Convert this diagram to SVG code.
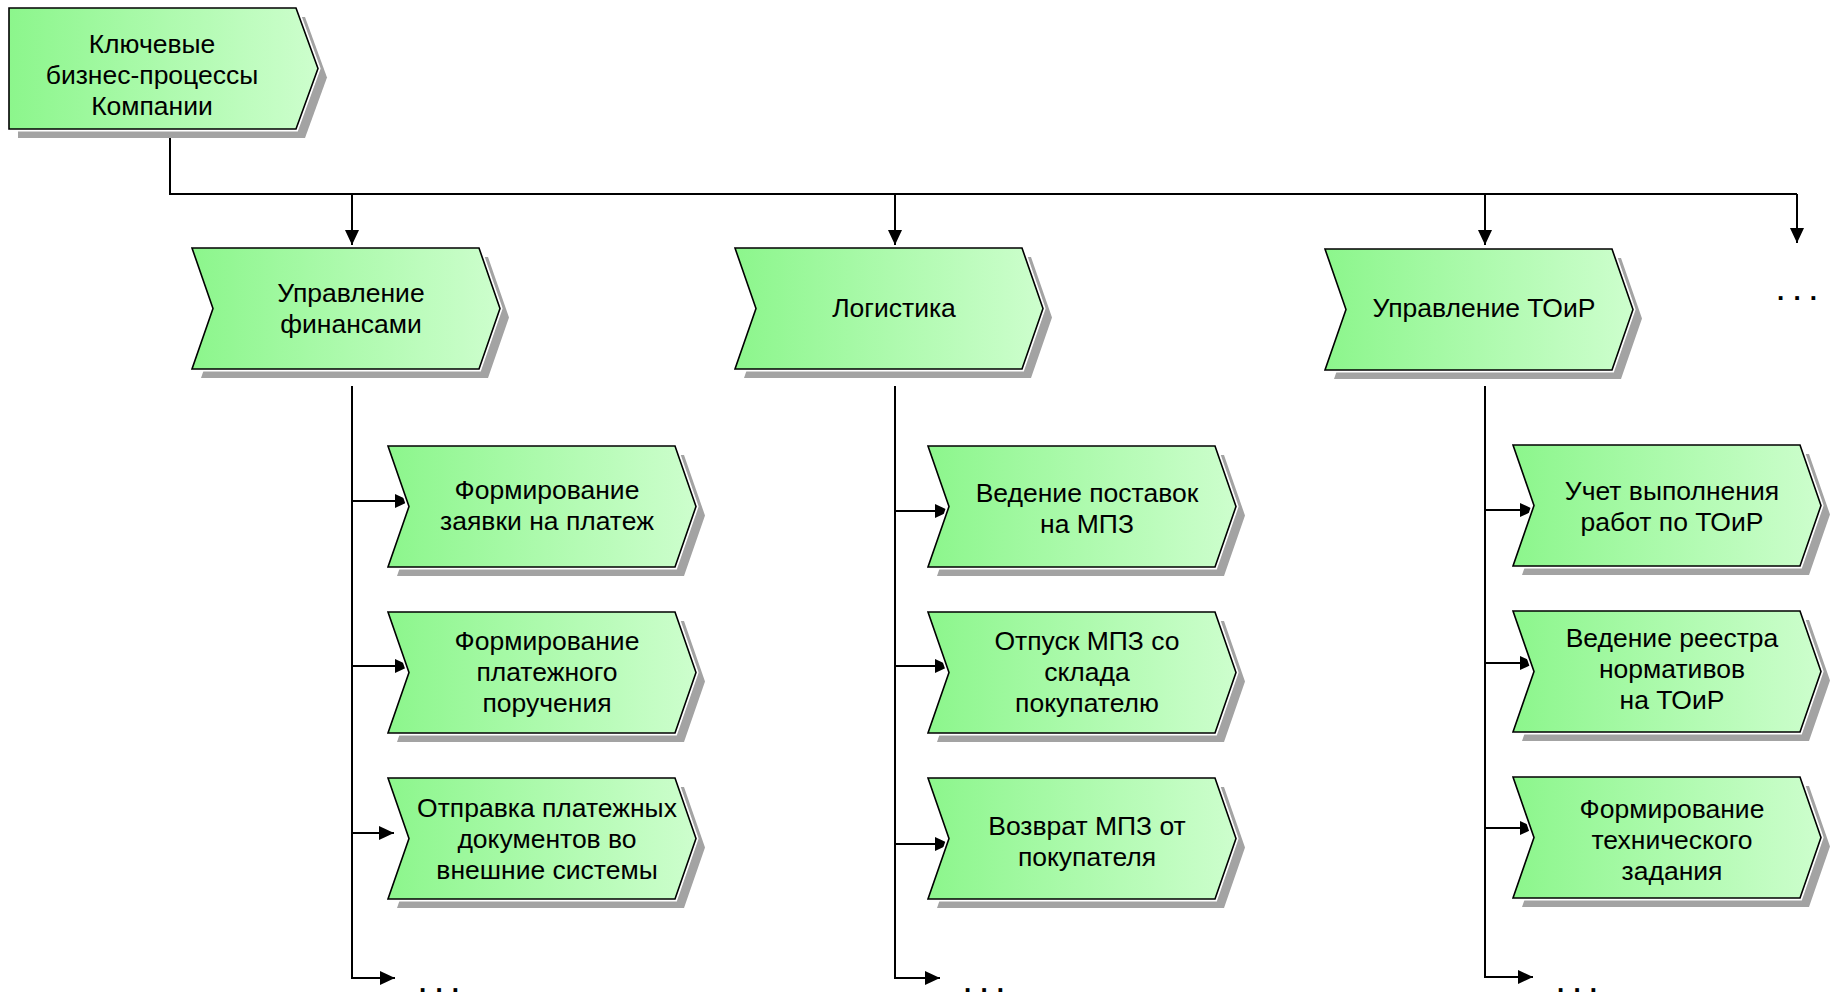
<svg xmlns="http://www.w3.org/2000/svg" xmlns:xlink="http://www.w3.org/1999/xlink" width="1835" height="998" viewBox="0 0 1835 998">
<style>
.sh{fill:#a3a3a3;}
.halo{fill:#ffffff;stroke:#ffffff;stroke-width:5;stroke-linejoin:miter;}
.body{fill:url(#g);stroke:#000000;stroke-width:1.6;stroke-linejoin:miter;}
.t{font-family:"Liberation Sans",Arial,sans-serif;font-size:26.5px;fill:#000000;text-anchor:middle;}
.dots{font-family:"Liberation Sans",Arial,sans-serif;font-size:26px;font-weight:bold;letter-spacing:1px;fill:#000000;text-anchor:middle;}
.c{fill:none;stroke:#000000;stroke-width:2;}
</style>
<defs>
<linearGradient id="g" x1="0" y1="0" x2="1" y2="0">
<stop offset="0" stop-color="#8cf68c"/>
<stop offset="0.5" stop-color="#adfaad"/>
<stop offset="1" stop-color="#cdfecd"/>
</linearGradient>
<polygon id="chev" points="0,0 287,0 308,60.5 287,121 0,121 21,60.5"/>
<polygon id="chevTop" points="0,0 287,0 309,60.5 287,121 0,121"/>
<marker id="arr" viewBox="0 0 15 14" refX="15" refY="7" markerWidth="15" markerHeight="14" markerUnits="userSpaceOnUse" orient="auto">
<path d="M0,0 L15,7 L0,14 z" fill="#000000"/>
</marker>
</defs>
<rect width="1835" height="998" fill="#ffffff"/>

<g id="connectors">
<path class="c" d="M170,138 V194 H1797"/>
<path class="c" d="M352,194 V245" marker-end="url(#arr)"/>
<path class="c" d="M895,194 V245" marker-end="url(#arr)"/>
<path class="c" d="M1485,194 V245" marker-end="url(#arr)"/>
<path class="c" d="M1797,194 V243" marker-end="url(#arr)"/>
<path class="c" d="M352,386 V978 H395" marker-end="url(#arr)"/>
<path class="c" d="M352,501 H410" marker-end="url(#arr)"/>
<path class="c" d="M352,666 H410" marker-end="url(#arr)"/>
<path class="c" d="M352,833 H394" marker-end="url(#arr)"/>
<path class="c" d="M895,386 V978 H940" marker-end="url(#arr)"/>
<path class="c" d="M895,511 H950" marker-end="url(#arr)"/>
<path class="c" d="M895,666 H950" marker-end="url(#arr)"/>
<path class="c" d="M895,844 H950" marker-end="url(#arr)"/>
<path class="c" d="M1485,386 V977 H1533" marker-end="url(#arr)"/>
<path class="c" d="M1485,510 H1535" marker-end="url(#arr)"/>
<path class="c" d="M1485,663 H1535" marker-end="url(#arr)"/>
<path class="c" d="M1485,828 H1535" marker-end="url(#arr)"/>
</g>

<g id="ellipses">
<text class="dots" x="1797.5" y="300">. . .</text>
<text class="dots" x="439.5" y="992">. . .</text>
<text class="dots" x="984.5" y="992">. . .</text>
<text class="dots" x="1577.5" y="992">. . .</text>
</g>

<g id="n-top" transform="translate(9,8)">
<use xlink:href="#chevTop" class="sh" x="9" y="9"/>
<use xlink:href="#chevTop" class="halo"/>
<use xlink:href="#chevTop" class="body"/>
<text class="t" x="143" y="45">Ключевые</text>
<text class="t" x="143" y="76">бизнес-процессы</text>
<text class="t" x="143" y="107">Компании</text>
</g>

<g id="n-fin" transform="translate(192,248)">
<use xlink:href="#chev" class="sh" x="9" y="9"/>
<use xlink:href="#chev" class="halo"/>
<use xlink:href="#chev" class="body"/>
<text class="t" x="159" y="54">Управление</text>
<text class="t" x="159" y="85">финансами</text>
</g>

<g id="n-log" transform="translate(735,248)">
<use xlink:href="#chev" class="sh" x="9" y="9"/>
<use xlink:href="#chev" class="halo"/>
<use xlink:href="#chev" class="body"/>
<text class="t" x="159" y="69">Логистика</text>
</g>

<g id="n-toir" transform="translate(1325,249)">
<use xlink:href="#chev" class="sh" x="9" y="9"/>
<use xlink:href="#chev" class="halo"/>
<use xlink:href="#chev" class="body"/>
<text class="t" x="159" y="68">Управление ТОиР</text>
</g>

<g id="n-f1" transform="translate(388,446)">
<use xlink:href="#chev" class="sh" x="9" y="9"/>
<use xlink:href="#chev" class="halo"/>
<use xlink:href="#chev" class="body"/>
<text class="t" x="159" y="53">Формирование</text>
<text class="t" x="159" y="84">заявки на платеж</text>
</g>

<g id="n-f2" transform="translate(388,612)">
<use xlink:href="#chev" class="sh" x="9" y="9"/>
<use xlink:href="#chev" class="halo"/>
<use xlink:href="#chev" class="body"/>
<text class="t" x="159" y="38">Формирование</text>
<text class="t" x="159" y="69">платежного</text>
<text class="t" x="159" y="100">поручения</text>
</g>

<g id="n-f3" transform="translate(388,778)">
<use xlink:href="#chev" class="sh" x="9" y="9"/>
<use xlink:href="#chev" class="halo"/>
<use xlink:href="#chev" class="body"/>
<text class="t" x="159" y="39">Отправка платежных</text>
<text class="t" x="159" y="70">документов во</text>
<text class="t" x="159" y="101">внешние системы</text>
</g>

<g id="n-l1" transform="translate(928,446)">
<use xlink:href="#chev" class="sh" x="9" y="9"/>
<use xlink:href="#chev" class="halo"/>
<use xlink:href="#chev" class="body"/>
<text class="t" x="159" y="56">Ведение поставок</text>
<text class="t" x="159" y="87">на МПЗ</text>
</g>

<g id="n-l2" transform="translate(928,612)">
<use xlink:href="#chev" class="sh" x="9" y="9"/>
<use xlink:href="#chev" class="halo"/>
<use xlink:href="#chev" class="body"/>
<text class="t" x="159" y="38">Отпуск МПЗ со</text>
<text class="t" x="159" y="69">склада</text>
<text class="t" x="159" y="100">покупателю</text>
</g>

<g id="n-l3" transform="translate(928,778)">
<use xlink:href="#chev" class="sh" x="9" y="9"/>
<use xlink:href="#chev" class="halo"/>
<use xlink:href="#chev" class="body"/>
<text class="t" x="159" y="57">Возврат МПЗ от</text>
<text class="t" x="159" y="88">покупателя</text>
</g>

<g id="n-t1" transform="translate(1513,445)">
<use xlink:href="#chev" class="sh" x="9" y="9"/>
<use xlink:href="#chev" class="halo"/>
<use xlink:href="#chev" class="body"/>
<text class="t" x="159" y="55">Учет выполнения</text>
<text class="t" x="159" y="86">работ по ТОиР</text>
</g>

<g id="n-t2" transform="translate(1513,611)">
<use xlink:href="#chev" class="sh" x="9" y="9"/>
<use xlink:href="#chev" class="halo"/>
<use xlink:href="#chev" class="body"/>
<text class="t" x="159" y="36">Ведение реестра</text>
<text class="t" x="159" y="67">нормативов</text>
<text class="t" x="159" y="98">на ТОиР</text>
</g>

<g id="n-t3" transform="translate(1513,777)">
<use xlink:href="#chev" class="sh" x="9" y="9"/>
<use xlink:href="#chev" class="halo"/>
<use xlink:href="#chev" class="body"/>
<text class="t" x="159" y="41">Формирование</text>
<text class="t" x="159" y="72">технического</text>
<text class="t" x="159" y="103">задания</text>
</g>
</svg>
